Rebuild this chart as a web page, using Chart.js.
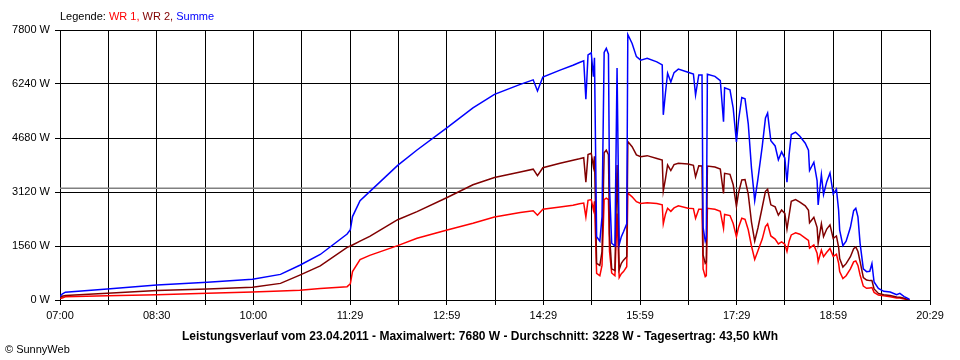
<!DOCTYPE html>
<html>
<head>
<meta charset="utf-8">
<script src="https://cdn.jsdelivr.net/npm/chart.js@4.4.1/dist/chart.umd.min.js"></script>
<style>
  body { margin: 0; background: #fff; font-family: 'Liberation Sans', Arial, sans-serif; }
  #wrap { position: relative; width: 960px; height: 360px; }
  #legend { position: absolute; left: 60px; top: 10px; font-size: 11px; }
  #title { position: absolute; left: 0; width: 960px; top: 329px; text-align: center; font-size: 12px; font-weight: bold; }
  #copy { position: absolute; left: 5px; top: 343px; font-size: 11px; }
</style>
</head>
<body>
<div id="wrap">
  <canvas id="chart" width="960" height="360"></canvas>
  <div id="legend">Legende: <span style="color:#ff0000">WR 1,</span> <span style="color:#800000">WR 2,</span> <span style="color:#0000ff">Summe</span></div>
  <div id="title">Leistungsverlauf vom 23.04.2011 - Maximalwert: 7680 W - Durchschnitt: 3228 W - Tagesertrag: 43,50 kWh</div>
  <div id="copy">&copy; SunnyWeb</div>
</div>
<script>
// Zeitpunkte (Uhrzeit)
const times = [
    '07:00', '07:02', '07:05', '07:44', '08:30', '09:17', '09:59', '10:25', '10:43', '11:02',
    '11:27', '11:30', '11:32', '11:39', '11:48', '12:14', '12:32', '13:00', '13:24', '13:44',
    '14:08', '14:20', '14:24', '14:29', '14:45', '14:57', '15:03', '15:07', '15:09', '15:11',
    '15:14', '15:16', '15:17', '15:19', '15:22', '15:24', '15:26', '15:28', '15:30', '15:31',
    '15:33', '15:36', '15:38', '15:40', '15:42', '15:44', '15:47', '15:48', '15:52', '15:56',
    '16:00', '16:06', '16:15', '16:20', '16:21', '16:23', '16:25', '16:28', '16:31', '16:35',
    '16:44', '16:49', '16:51', '16:54', '16:57', '16:58', '17:00', '17:01', '17:02', '17:09',
    '17:14', '17:17', '17:18', '17:23', '17:26', '17:29', '17:31', '17:34', '17:37', '17:40',
    '17:43', '17:46', '17:49', '17:53', '17:56', '17:58', '18:01', '18:05', '18:08', '18:11',
    '18:14', '18:16', '18:18', '18:20', '18:24', '18:28', '18:33', '18:36', '18:37', '18:41',
    '18:44', '18:45', '18:48', '18:50', '18:53', '18:56', '18:59', '19:02', '19:04', '19:05',
    '19:08', '19:11', '19:15', '19:18', '19:20', '19:22', '19:24', '19:27', '19:30', '19:33',
    '19:35', '19:37', '19:41', '19:46', '19:52', '19:58', '20:01', '20:05', '20:08', '20:10'
];

// WR 1 (W)
const wr1 = [
    40, 60, 96, 125, 154, 193, 231, 260, 285, 330,
    385, 470, 820, 1170, 1290, 1570, 1782, 2022, 2220, 2400,
    2530, 2580, 2450, 2620, 2690, 2740, 2780, 2800, 2400, 2880,
    2900, 2600, 2850, 770, 700, 1000, 2900, 2940, 2900, 1400,
    780, 700, 2500, 650, 760, 820, 960, 3090, 2980, 2840,
    2790, 2810, 2790, 2750, 2200, 2480, 2650, 2560, 2660, 2720,
    2650, 2640, 2360, 2620, 2620, 900, 674, 700, 2650, 2620,
    2560, 2070, 2470, 2440, 2210, 1830, 2100, 2360, 2330, 2030,
    1560, 1170, 1420, 1760, 2120, 2200, 1850, 1760, 1620, 1680,
    1610, 1400, 1700, 1880, 1940, 1900, 1790, 1720, 1500, 1590,
    1350, 1107, 1440, 1250, 1380, 1490, 1260, 1320, 1070, 820,
    620, 700, 900, 1100, 1130, 1000, 722, 400, 337, 350,
    360, 220, 144, 120, 96, 60, 55, 30, 10, 0
];

// WR 2 (W)
const wr2 = [
    60, 110, 130, 193, 275, 320, 370, 480, 720, 985,
    1520, 1560, 1590, 1700, 1840, 2320, 2552, 2960, 3330, 3540,
    3700, 3780, 3590, 3820, 3950, 4040, 4080, 4110, 3400, 4200,
    4240, 3850, 4150, 1059, 1000, 1400, 4250, 4330, 4200, 1900,
    900, 850, 3900, 880, 1060, 1150, 1250, 4580, 4430, 4190,
    4140, 4170, 4090, 4040, 3150, 3500, 3900, 3740, 3910, 3950,
    3930, 3890, 3560, 3880, 3870, 1300, 1059, 1100, 3870, 3840,
    3780, 3080, 3660, 3630, 3330, 2700, 3100, 3470, 3480, 3060,
    2250, 1700, 2080, 2680, 3140, 3200, 2750, 2690, 2450, 2600,
    2500, 2050, 2450, 2850, 2900, 2830, 2720, 2590, 2230, 2390,
    2100, 1637, 2200, 1830, 2050, 2170, 1780, 1850, 1530, 1200,
    950, 1050, 1250, 1480, 1530, 1400, 1107, 650, 578, 560,
    560, 320, 190, 150, 130, 90, 80, 50, 10, 0
];

// Summe (W)
const summe = [
    100, 170, 226, 318, 430, 515, 600, 740, 1005, 1315,
    1905, 2030, 2410, 2870, 3130, 3890, 4333, 4980, 5550, 5940,
    6230, 6360, 6040, 6440, 6640, 6780, 6860, 6910, 5800, 7080,
    7140, 6450, 7000, 1829, 1700, 2400, 7150, 7270, 7100, 3250,
    1640, 1560, 6700, 1600, 1830, 1970, 2200, 7670, 7410, 7030,
    6930, 6980, 6880, 6790, 5350, 5980, 6550, 6300, 6570, 6670,
    6580, 6530, 5920, 6500, 6500, 2100, 1700, 1800, 6520, 6460,
    6340, 5150, 6130, 6070, 5540, 4570, 5200, 5850, 5810, 5090,
    3810, 2870, 3500, 4440, 5260, 5400, 4600, 4450, 4050, 4280,
    4100, 3400, 4200, 4780, 4850, 4730, 4530, 4330, 3740, 3980,
    3450, 2745, 3620, 3050, 3420, 3670, 3060, 3200, 2600, 2020,
    1570, 1700, 2100, 2580, 2650, 2400, 1637, 900, 818, 830,
    1050, 520, 337, 250, 230, 150, 190, 100, 50, 20
];

// Durchschnitt (W)
const average = 3228;

// Achsen
const xStart = '07:00';
const xEnd = '20:29';
const xTickLabels = ['07:00', '', '08:30', '', '10:00', '', '11:29', '', '12:59', '', '14:29', '', '15:59', '', '17:29', '', '18:59', '', '20:29'];
const yMax = 7800;
const yStep = 1560;

function toMinutes(t) {
    const parts = t.split(':');
    return parseInt(parts[0]) * 60 + parseInt(parts[1]);
}

function series(values) {
    return times.map((t, i) => ({ x: toMinutes(t), y: values[i] }));
}

const xMin = toMinutes(xStart);
const xMax = toMinutes(xEnd);

const lineStyle = { borderWidth: 1.5, pointRadius: 0, tension: 0, fill: false };

new Chart(document.getElementById('chart'), {
    type: 'line',
    data: {
        datasets: [
            Object.assign({ label: 'Summe', data: series(summe), borderColor: '#0000ff' }, lineStyle),
            Object.assign({ label: 'WR 2', data: series(wr2), borderColor: '#800000' }, lineStyle),
            Object.assign({ label: 'WR 1', data: series(wr1), borderColor: '#ff0000' }, lineStyle),
            { label: 'Durchschnitt', data: [{ x: xMin, y: average }, { x: xMax, y: average }],
              borderColor: '#808080', borderWidth: 1.5, pointRadius: 0 }
        ]
    },
    options: {
        responsive: false,
        animation: false,
        layout: { padding: { top: 30, right: 30, left: 0, bottom: 0 } },
        plugins: { legend: { display: false }, tooltip: { enabled: false } },
        scales: {
            x: {
                type: 'linear',
                min: xMin,
                max: xMax,
                afterBuildTicks: scale => {
                    const n = xTickLabels.length - 1;
                    scale.ticks = xTickLabels.map((l, i) => ({ value: xMin + (xMax - xMin) * i / n }));
                },
                afterFit: scale => { scale.height = 60; },
                grid: { color: '#000', tickLength: 5, tickColor: '#000' },
                border: { color: '#000' },
                ticks: {
                    autoSkip: false, maxRotation: 0, padding: 4, color: '#000',
                    font: { family: "'Liberation Sans', Arial", size: 11 },
                    callback: (v, i) => xTickLabels[i]
                }
            },
            y: {
                min: 0,
                max: yMax,
                afterFit: scale => { scale.width = 60; },
                grid: { color: '#000', tickLength: 5, tickColor: '#000' },
                border: { color: '#000' },
                ticks: {
                    stepSize: yStep, padding: 5, color: '#000',
                    font: { family: "'Liberation Sans', Arial", size: 11 },
                    callback: v => v + ' W'
                }
            }
        }
    }
});
</script>
</body>
</html>
